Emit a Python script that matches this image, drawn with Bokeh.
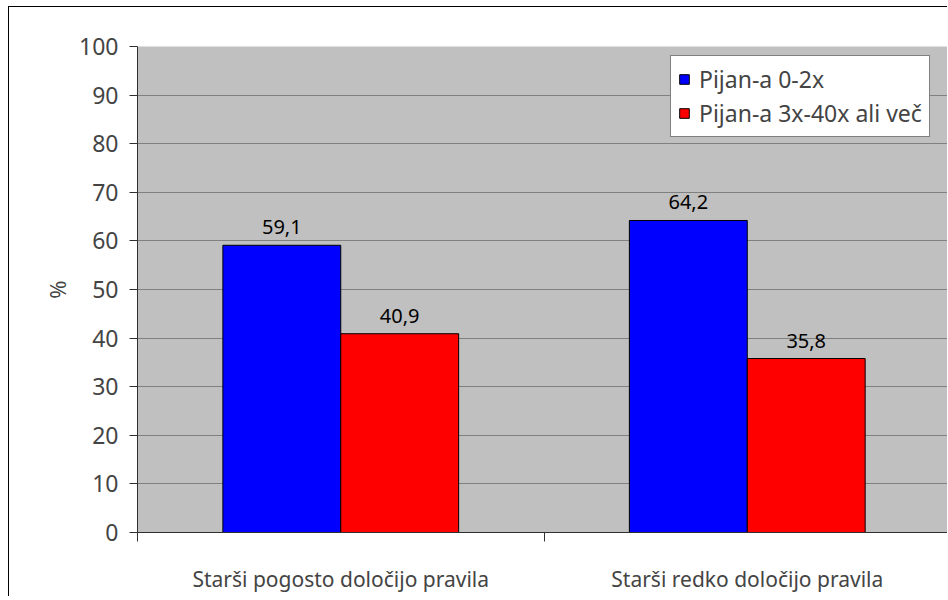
from bokeh.plotting import figure
from bokeh.models import ColumnDataSource, FixedTicker, Range1d, Legend, LegendItem
from bokeh.transform import dodge
from bokeh.core.properties import value
from bokeh.embed import file_html
from bokeh.resources import INLINE

categories = ["Starši pogosto določijo pravila", "Starši redko določijo pravila"]
series_names = ["Pijan-a 0-2x", "Pijan-a 3x-40x ali več"]
blue_vals = [59.1, 64.2]
red_vals = [40.9, 35.8]
y_ticks = [0, 10, 20, 30, 40, 50, 60, 70, 80, 90, 100]

FONT = "Noto Sans"

xs = [i + 0.5 for i in range(len(categories))]
def fmt(v):
    return f"{v:.1f}".replace(".", ",")

src = ColumnDataSource(dict(
    x=xs,
    blue=blue_vals,
    red=red_vals,
    blue_lbl=[fmt(v) for v in blue_vals],
    red_lbl=[fmt(v) for v in red_vals],
))

p = figure(width=939, height=590, output_backend="svg", toolbar_location=None,
           x_range=Range1d(0, 1.995), y_range=Range1d(0, 100),
           min_border_left=128, min_border_top=39, min_border_bottom=65, min_border_right=0)
p.styles = {"border-left": "1px solid black", "border-top": "1px solid black",
            "margin-left": "8px", "margin-top": "6px"}

p.background_fill_color = "#C0C0C0"
p.border_fill_color = "white"
p.outline_line_color = None

bw = 0.29
off = 0.145
r1 = p.vbar(x=dodge("x", -off), top="blue", width=bw, source=src,
            fill_color="#0000FF", line_color="black", line_width=1)
r2 = p.vbar(x=dodge("x", off), top="red", width=bw, source=src,
            fill_color="#FF0000", line_color="black", line_width=1)

p.text(x=dodge("x", -off), y="blue", text="blue_lbl", source=src,
       text_align="center", text_baseline="bottom", y_offset=-11,
       text_font=value(FONT), text_font_size="20px", text_color="black")
p.text(x=dodge("x", off), y="red", text="red_lbl", source=src,
       text_align="center", text_baseline="bottom", y_offset=-11,
       text_font=value(FONT), text_font_size="20px", text_color="black")

# Y axis
p.yaxis.ticker = FixedTicker(ticks=y_ticks)
p.yaxis.major_tick_out = 8
p.yaxis.major_tick_in = 0
p.yaxis.minor_tick_line_color = None
p.yaxis.major_label_text_font = FONT
p.yaxis.major_label_text_font_size = "23px"
p.yaxis.major_label_standoff = 11
p.yaxis.axis_label = "%"
p.yaxis.axis_label_text_font = FONT
p.yaxis.axis_label_text_font_size = "22px"
p.yaxis.axis_label_text_font_style = "normal"
p.yaxis.axis_label_standoff = 4
p.yaxis.axis_line_color = "#303030"
p.yaxis.major_tick_line_color = "#303030"

# X axis
p.xaxis.ticker = FixedTicker(ticks=xs, minor_ticks=[0, 1, 2])
p.xaxis.major_label_overrides = {x: c for x, c in zip(xs, categories)}
p.xaxis.major_tick_line_color = None
p.xaxis.major_tick_out = 0
p.xaxis.major_tick_in = 0
p.xaxis.minor_tick_out = 9
p.xaxis.minor_tick_in = 0
p.xaxis.minor_tick_line_color = "#303030"
p.xaxis.axis_line_color = "#303030"
p.xaxis.major_label_text_font = FONT
p.xaxis.major_label_text_font_size = "21px"
p.xaxis.major_label_standoff = 23

p.xgrid.grid_line_color = None
p.ygrid.ticker = FixedTicker(ticks=y_ticks)
p.ygrid.grid_line_color = "#808080"
p.ygrid.grid_line_width = 1

legend = Legend(items=[LegendItem(label=series_names[0], renderers=[r1]),
                       LegendItem(label=series_names[1], renderers=[r2])],
                location=(533, 395))
legend.label_text_font = FONT
legend.label_text_font_size = "23px"
legend.glyph_width = 12
legend.glyph_height = 12
legend.label_standoff = 9
legend.spacing = 2
legend.padding = 7
legend.margin = 0
legend.border_line_color = "black"
legend.border_line_width = 1
legend.background_fill_color = "white"
legend.background_fill_alpha = 1
p.add_layout(legend, "center")

open("out.html", "w").write(file_html(p, INLINE))
